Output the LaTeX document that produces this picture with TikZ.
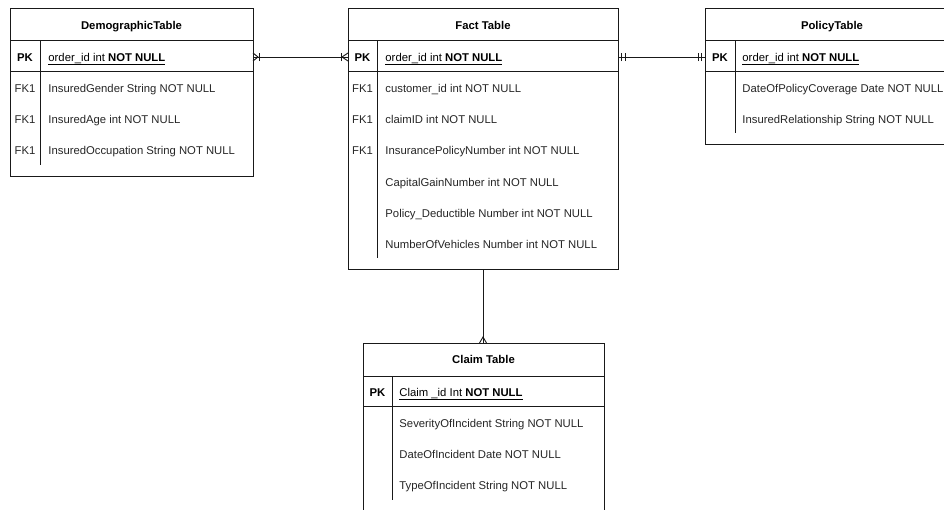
\documentclass[tikz,border=0pt]{standalone}
\usepackage{fontspec}
\setmainfont{Liberation Sans}
\begin{document}
\begin{tikzpicture}[x=1pt,y=-1pt,line width=0.9pt,
  tbl/.style={draw=black!90,fill=white,anchor=north west,inner sep=0pt,outer sep=0pt},
  ttl/.style={font=\fontsize{11.3}{13}\selectfont\bfseries,inner sep=0pt,anchor=base},
  keyc/.style={font=\fontsize{11.3}{13}\selectfont,text=black!85,inner sep=0pt,anchor=base},
  keyb/.style={font=\fontsize{11.3}{13}\selectfont\bfseries,text=black,inner sep=0pt,anchor=base},
  fld/.style={font=\fontsize{11.3}{13}\selectfont,text=black!85,anchor=base west,inner sep=0pt},
  part/.style={draw=black!90,line width=0.9pt},
  conn/.style={draw=black!90,line width=0.9pt}]
\clip (0,0) rectangle (944,509);
\fill[white] (0,0) rectangle (944,509);

% ---------- DemographicTable ----------
\node[tbl,minimum width=243pt,minimum height=168pt] (demo) at (10,8) {};
\node[ttl] (demoT) at (131.5,29) {DemographicTable};
\draw[part] (10,40) -- (253,40);
\draw[part] (10,71) -- (253,71);
\draw[part] (40,40) -- (40,165);
\node[keyb] (demoPKk) at (25,61) {PK};
\node[fld,text=black] (demoPK) at (48,61) {\underline{order\_id int \textbf{NOT NULL}}};
\node[keyc] (demoK1) at (25,92) {FK1};
\node[fld] (demoF1) at (48,92) {InsuredGender String NOT NULL};
\node[keyc] (demoK2) at (25,123) {FK1};
\node[fld] (demoF2) at (48,123) {InsuredAge int NOT NULL};
\node[keyc] (demoK3) at (25,154) {FK1};
\node[fld] (demoF3) at (48,154) {InsuredOccupation String NOT NULL};

% ---------- Fact Table ----------
\node[tbl,minimum width=270pt,minimum height=261pt] (fact) at (348,8) {};
\node[ttl] (factT) at (483,29) {Fact Table};
\draw[part] (348,40) -- (618,40);
\draw[part] (348,71) -- (618,71);
\draw[part] (377,40) -- (377,258);
\node[keyb] (factPKk) at (362.5,61) {PK};
\node[fld,text=black] (factPK) at (385,61) {\underline{order\_id int \textbf{NOT NULL}}};
\node[keyc] (factK1) at (362.5,92) {FK1};
\node[fld] (factF1) at (385,92) {customer\_id int NOT NULL};
\node[keyc] (factK2) at (362.5,123) {FK1};
\node[fld] (factF2) at (385,123) {claimID int NOT NULL};
\node[keyc] (factK3) at (362.5,154) {FK1};
\node[fld] (factF3) at (385,154) {InsurancePolicyNumber int NOT NULL};
\node[fld] (factF4) at (385,186) {CapitalGainNumber int NOT NULL};
\node[fld] (factF5) at (385,217) {Policy\_Deductible Number int NOT NULL};
\node[fld] (factF6) at (385,248) {NumberOfVehicles Number int NOT NULL};

% ---------- PolicyTable ----------
\node[tbl,minimum width=254pt,minimum height=136pt] (pol) at (705,8) {};
\node[ttl] (polT) at (832,29) {PolicyTable};
\draw[part] (705,40) -- (959,40);
\draw[part] (705,71) -- (959,71);
\draw[part] (735,40) -- (735,133);
\node[keyb] (polPKk) at (720,61) {PK};
\node[fld,text=black] (polPK) at (742,61) {\underline{order\_id int \textbf{NOT NULL}}};
\node[fld] (polF1) at (742,92) {DateOfPolicyCoverage Date NOT NULL};
\node[fld] (polF2) at (742,123) {InsuredRelationship String NOT NULL};

% ---------- Claim Table ----------
\node[tbl,minimum width=241pt,minimum height=180pt] (clm) at (363,343) {};
\node[ttl] (clmT) at (483.5,363.5) {Claim Table};
\draw[part] (363,376) -- (604,376);
\draw[part] (363,406) -- (604,406);
\draw[part] (392,376) -- (392,500);
\node[keyb] (clmPKk) at (377.5,396) {PK};
\node[fld,text=black] (clmPK) at (399,396) {\underline{Claim \_id Int \textbf{NOT NULL}}};
\node[fld] (clmF1) at (399,427) {SeverityOfIncident String NOT NULL};
\node[fld] (clmF2) at (399,458) {DateOfIncident Date NOT NULL};
\node[fld] (clmF3) at (399,489) {TypeOfIncident String NOT NULL};

% ---------- connectors ----------
\coordinate (dA) at (demo.east |- 0,57);
\coordinate (fA) at (fact.west |- 0,57);
\draw[conn] (dA) -- (fA);
% one-or-many at DemographicTable
\draw[conn] ([yshift=-4pt]dA) -- ([xshift=5pt]dA) -- ([yshift=4pt]dA);
\draw[conn] ([xshift=6.5pt,yshift=-4pt]dA) -- ([xshift=6.5pt,yshift=4pt]dA);
% one-or-many at Fact Table
\draw[conn] ([yshift=-4pt]fA) -- ([xshift=-6pt]fA) -- ([yshift=4pt]fA);
\draw[conn] ([xshift=-7pt,yshift=-4pt]fA) -- ([xshift=-7pt,yshift=4pt]fA);

\coordinate (fB) at (fact.east |- 0,57);
\coordinate (pB) at (pol.west |- 0,57);
\draw[conn] (fB) -- (pB);
\draw[conn] ([xshift=3.5pt,yshift=-4pt]fB) -- ([xshift=3.5pt,yshift=4pt]fB);
\draw[conn] ([xshift=7pt,yshift=-4pt]fB) -- ([xshift=7pt,yshift=4pt]fB);
\draw[conn] ([xshift=-3.5pt,yshift=-4pt]pB) -- ([xshift=-3.5pt,yshift=4pt]pB);
\draw[conn] ([xshift=-7pt,yshift=-4pt]pB) -- ([xshift=-7pt,yshift=4pt]pB);

\coordinate (fC) at (fact.south);
\coordinate (cC) at (fact.south |- clm.north);
\draw[conn] (fC) -- (cC);
\draw[conn] ([xshift=-3.5pt]cC) -- ([yshift=6pt]cC) -- ([xshift=3.5pt]cC);
\end{tikzpicture}
\end{document}
